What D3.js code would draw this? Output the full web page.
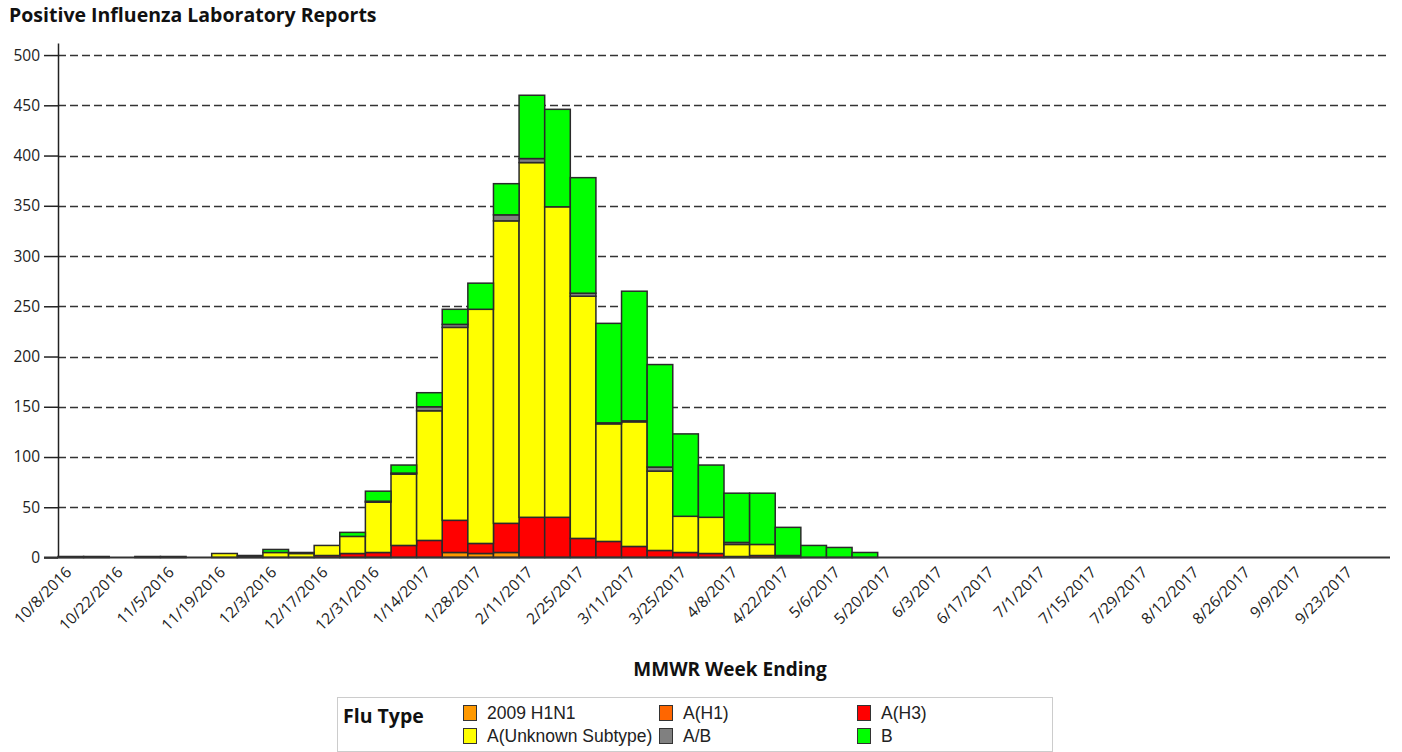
<!DOCTYPE html>
<html>
<head>
<meta charset="utf-8">
<script src="https://cdn.jsdelivr.net/npm/d3@7"></script>
<style>
  body { margin: 0; background: #fff; }
  svg { display: block; }
  .title { font-family: "Open Sans", sans-serif; font-weight: bold; font-size: 19.5px; fill: #111; }
  .tick text { font-family: "Open Sans", sans-serif; font-size: 15.5px; fill: #222; }
  .xtitle { font-family: "Open Sans", sans-serif; font-weight: bold; font-size: 19px; fill: #111; }
  .legend text { font-family: "Liberation Sans", Arial, sans-serif; font-size: 17.5px; fill: #222; }
  .legend .lhead { font-family: "Open Sans", sans-serif; font-weight: bold; font-size: 19.5px; fill: #111; }
</style>
</head>
<body>
<div id="chart"></div>
<script>
// week ending dates (MMWR)
var weeks = ['10/8/2016','10/15/2016','10/22/2016','10/29/2016','11/5/2016','11/12/2016','11/19/2016',
  '11/26/2016','12/3/2016','12/10/2016','12/17/2016','12/24/2016','12/31/2016',
  '1/7/2017','1/14/2017','1/21/2017','1/28/2017','2/4/2017','2/11/2017','2/18/2017','2/25/2017',
  '3/4/2017','3/11/2017','3/18/2017','3/25/2017','4/1/2017','4/8/2017','4/15/2017','4/22/2017',
  '4/29/2017','5/6/2017','5/13/2017','5/20/2017','5/27/2017','6/3/2017','6/10/2017','6/17/2017',
  '6/24/2017','7/1/2017','7/8/2017','7/15/2017','7/22/2017','7/29/2017','8/5/2017','8/12/2017',
  '8/19/2017','8/26/2017','9/2/2017','9/9/2017','9/16/2017','9/23/2017','9/30/2017'];

var fluTypes = ['2009 H1N1', 'A(H1)', 'A(H3)', 'A(Unknown Subtype)', 'A/B', 'B'];
var fluColors = ['#ff9900', '#ff6600', '#ff0000', '#ffff00', '#808080', '#00ff00'];

// counts per week, one array per flu type
var h1n1 = [0,0,0,0,0,0,0, 0,0,0,0,0,0, 0,0,5,4,5,0,0,0, 0,0,0,0,0,0,0,0,
  0,0,0,0,0,0,0,0, 0,0,0,0,0,0,0,0, 0,0,0,0,0,0,0];
var aH1 = [0,0,0,0,0,0,0, 0,0,0,0,0,0, 0,0,0,0,0,0,0,0, 0,0,0,0,0,0,0,0,
  0,0,0,0,0,0,0,0, 0,0,0,0,0,0,0,0, 0,0,0,0,0,0,0];
var aH3 = [0,0,0,0,0,0,0, 1,0,0,2,4,5, 12,17,32,10,29,40,40,19, 16,11,7,5,4,1,2,1,
  0,0,0,0,0,0,0,0, 0,0,0,0,0,0,0,0, 0,0,0,0,0,0,0];
var aUnknown = [1,1,0,1,1,0,4, 1,5,4,10,17,50, 71,129,192,233,301,353,309,241, 117,124,79,36,36,12,11,1,
  0,0,0,0,0,0,0,0, 0,0,0,0,0,0,0,0, 0,0,0,0,0,0,0];
var aB = [0,0,0,0,0,0,0, 0,0,1,0,0,1, 1,4,3,0,6,4,0,3, 1,1,4,0,0,2,0,0,
  0,0,0,0,0,0,0,0, 0,0,0,0,0,0,0,0, 0,0,0,0,0,0,0];
var typeB = [0,0,0,0,0,0,0, 0,3,0,0,4,10, 8,14,15,26,31,63,97,115, 99,129,102,82,52,49,51,28,
  12,10,5,0,0,0,0,0, 0,0,0,0,0,0,0,0, 0,0,0,0,0,0,0];

var yTicks = [0,50,100,150,200,250,300,350,400,450,500];

var series = [h1n1, aH1, aH3, aUnknown, aB, typeB];
var table = weeks.map(function(w, i) {
  var row = { week: w };
  fluTypes.forEach(function(t, j) { row[t] = series[j][i]; });
  return row;
});

var width = 1402, height = 752;
var svg = d3.select('#chart').append('svg')
  .attr('width', width)
  .attr('height', height);

var x = d3.scaleBand()
  .domain(weeks)
  .range([58, 1390])
  .padding(0);

var y = d3.scaleLinear()
  .domain([0, 512])
  .range([557.5, 43]);

var color = d3.scaleOrdinal().domain(fluTypes).range(fluColors);

// title
svg.append('text')
  .attr('class', 'title')
  .attr('x', 9)
  .attr('y', 22)
  .text('Positive Influenza Laboratory Reports');

// dashed grid lines
svg.append('g')
  .selectAll('line')
  .data(yTicks.filter(function(d) { return d > 0; }))
  .enter().append('line')
  .attr('x1', 58)
  .attr('x2', 1390)
  .attr('y1', function(d) { return Math.round(y(d)) + 0.5; })
  .attr('y2', function(d) { return Math.round(y(d)) + 0.5; })
  .attr('stroke', '#333')
  .attr('stroke-width', 1.3)
  .attr('stroke-dasharray', '8,4');

// stacked bars
var stack = d3.stack().keys(fluTypes)(table);
svg.append('g')
  .selectAll('g')
  .data(stack)
  .enter().append('g')
  .attr('fill', function(d) { return color(d.key); })
  .selectAll('rect')
  .data(function(d) { return d.filter(function(s) { return s[1] > s[0]; }); })
  .enter().append('rect')
  .attr('x', function(d) { return x(d.data.week); })
  .attr('width', x.bandwidth())
  .attr('y', function(d) { return y(d[1]); })
  .attr('height', function(d) { return y(d[0]) - y(d[1]); })
  .attr('stroke', '#2a2a2a')
  .attr('stroke-width', 1.5);

// y axis
var yAxis = svg.append('g')
  .attr('transform', 'translate(58,0)')
  .call(d3.axisLeft(y).tickValues(yTicks).tickSize(14).tickSizeOuter(0).tickPadding(4));
yAxis.select('.domain').attr('stroke', '#222').attr('stroke-width', 1.5);
yAxis.selectAll('.tick line').attr('stroke', '#222').attr('stroke-width', 1.5);

// x axis, every other week labelled
var xAxis = svg.append('g')
  .attr('transform', 'translate(0,' + y(0) + ')')
  .call(d3.axisBottom(x)
    .tickValues(weeks.filter(function(d, i) { return i % 2 == 0; }))
    .tickSize(0));
xAxis.select('.domain').remove();
xAxis.selectAll('.tick text')
  .style('text-anchor', 'end')
  .attr('dy', '0.7em')
  .attr('transform', 'translate(-8,6) rotate(-45)');

svg.append('line')
  .attr('x1', 44)
  .attr('x2', 1390)
  .attr('y1', y(0))
  .attr('y2', y(0))
  .attr('stroke', '#333')
  .attr('stroke-width', 2);

// x axis title
svg.append('text')
  .attr('class', 'xtitle')
  .attr('x', (58 + 1390) / 2 + 6)
  .attr('y', 676)
  .attr('text-anchor', 'middle')
  .text('MMWR Week Ending');

// legend
var legend = svg.append('g').attr('class', 'legend');
legend.append('rect')
  .attr('x', 337.5)
  .attr('y', 697.5)
  .attr('width', 715)
  .attr('height', 54)
  .attr('fill', '#fff')
  .attr('stroke', '#ccc');
legend.append('text')
  .attr('class', 'lhead')
  .attr('x', 343)
  .attr('y', 723)
  .text('Flu Type');

var colX = [463, 659, 857];
var item = legend.selectAll('.item')
  .data(fluTypes)
  .enter().append('g')
  .attr('class', 'item')
  .attr('transform', function(d, i) {
    return 'translate(' + colX[i % 3] + ',' + (705 + Math.floor(i / 3) * 23) + ')';
  });
item.append('rect')
  .attr('x', 0.5)
  .attr('y', 0.5)
  .attr('width', 13)
  .attr('height', 15)
  .attr('fill', function(d) { return color(d); })
  .attr('stroke', '#333');
item.append('text')
  .attr('x', 24)
  .attr('y', 14)
  .text(function(d) { return d; });
</script>
</body>
</html>
